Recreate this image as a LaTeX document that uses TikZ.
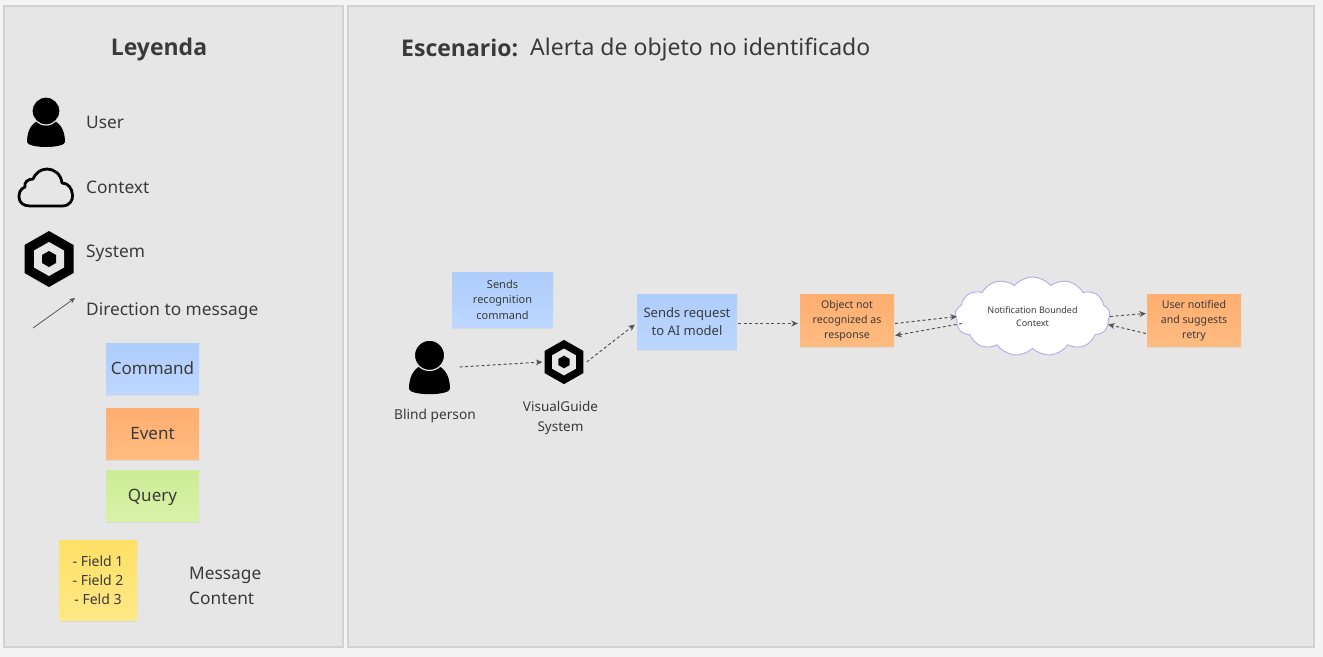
\documentclass[tikz,border=0pt]{standalone}
\usepackage{fontspec}
\setmainfont{Noto Sans}
\newfontfamily\titlefont{Open Sans}
\usetikzlibrary{shapes.symbols,shadows,arrows.meta}
\definecolor{pagebg}{HTML}{F4F4F4}
\definecolor{panelbg}{HTML}{E6E6E6}
\definecolor{panelline}{HTML}{D2D2D2}
\definecolor{ink}{HTML}{3A3A3A}
\definecolor{flow}{HTML}{555555}
\newcommand{\fs}[2]{\fontsize{#1bp}{#2bp}\selectfont}
\newcommand{\usericon}[3]{%
  \begin{scope}[shift={(#1,#2)},scale=#3]
    \fill[black] (-19,10) .. controls (-19,-4) and (-12,-13) .. (0,-13) .. controls (12,-13) and (19,-4) .. (19,10) .. controls (19,13) and (10,15) .. (0,15) .. controls (-10,15) and (-19,13) .. (-19,10) -- cycle;
    \draw[panelbg,line width=1.2bp,fill=black] (0,-21) circle (14);
  \end{scope}}
\newcommand{\hexicon}[3]{%
  \begin{scope}[shift={(#1,#2)},scale=#3]
    \fill[black] (0,-28) -- (24.5,-14) -- (24.5,14) -- (0,28) -- (-24.5,14) -- (-24.5,-14) -- cycle;
    \fill[panelbg] (0,-17) -- (15,-8.5) -- (15,8.5) -- (0,17) -- (-15,8.5) -- (-15,-8.5) -- cycle;
    \fill[black] (0,-8) -- (7,-4) -- (7,4) -- (0,8) -- (-7,4) -- (-7,-4) -- cycle;
  \end{scope}}
\definecolor{cmdtop}{HTML}{AECDFB}
\definecolor{cmdbot}{HTML}{BDD7FF}
\definecolor{evttop}{HTML}{FFAE70}
\definecolor{evtbot}{HTML}{FFBB80}
\definecolor{qrytop}{HTML}{CDEC96}
\definecolor{qrybot}{HTML}{D8F2A8}
\definecolor{fldtop}{HTML}{FFE066}
\definecolor{fldbot}{HTML}{FFE886}
\definecolor{cloudline}{HTML}{B4A8EC}
\tikzset{
  x=1bp,y=-1bp,
  sticky/.style={inner sep=0pt,align=center,text=ink,drop shadow={shadow xshift=0bp,shadow yshift=-1.5bp,opacity=.12}},
  cmdbox/.style={sticky,top color=cmdtop,bottom color=cmdbot},
  evtbox/.style={sticky,top color=evttop,bottom color=evtbot},
  qrybox/.style={sticky,top color=qrytop,bottom color=qrybot},
  fldbox/.style={sticky,top color=fldtop,bottom color=fldbot},
  label/.style={text=ink,inner sep=0pt,align=center},
  flowline/.style={draw=flow,line width=1bp,dash pattern=on 3bp off 2.5bp,-{Stealth[length=6.5bp,width=6bp]}},
  panel/.style={fill=panelbg,draw=panelline,line width=1.2bp},
  ghost/.style={inner sep=0pt,draw=none}
}
\begin{document}
\begin{tikzpicture}
\useasboundingbox (0,0) rectangle (1323,657);
\fill[pagebg] (0,0) rectangle (1323,657);
\draw[panel] (4,6) rectangle (343,647);
\draw[panel] (348,6) rectangle (1314,647);

% titles
\node[label,font=\titlefont\fs{23}{26}\bfseries] (legendtitle) at (159,49.5) {Leyenda};
\node[label,anchor=west,font=\titlefont\fs{23}{26}\bfseries] (scenariotitle) at (401,47.5) {Escenario:};
\node[label,anchor=west,font=\fs{23}{26}] (scenarioname) at (530,49.5) {Alerta de objeto no identificado};

% legend icons
\usericon{46}{132}{1}
\node[label,anchor=west,font=\fs{17.3}{20}] (luser) at (86,122) {User};
\draw[black,line width=2.8bp,line join=round] (30,206) -- (62,206) .. controls (70,206) and (73,200) .. (72.5,195) .. controls (72,188) and (68,183) .. (62,183) .. controls (61,174) and (54,169) .. (47,169) .. controls (40,169) and (35,174) .. (33,179) .. controls (27,179) and (24,183) .. (25,187) .. controls (20,189) and (19,193) .. (19,197) .. controls (19,203) and (24,206) .. (30,206) -- cycle;
\node[label,anchor=west,font=\fs{17.3}{20}] (lcontext) at (86,187) {Context};
\hexicon{49}{259}{1}
\node[label,anchor=west,font=\fs{17.3}{20}] (lsystem) at (86,253.5) {System};
\coordinate (larrowa) at (33,328);
\coordinate (larrowb) at (75,298);
\draw[draw=flow,line width=.8bp,-{Stealth[length=5.5bp,width=5bp]}] (larrowa) -- (larrowb);
\node[label,anchor=west,font=\fs{17.3}{20}] (ldirection) at (86,311) {Direction to message};

\node[cmdbox,minimum width=93bp,minimum height=51bp,font=\fs{17}{20}] (lcommand) at (152.5,368.5) {Command};
\node[evtbox,minimum width=93bp,minimum height=51bp,font=\fs{17}{20}] (levent) at (152.5,433.5) {Event};
\node[qrybox,minimum width=93bp,minimum height=51bp,font=\fs{17}{20},text height=13bp,text depth=2bp] (lquery) at (152.5,495.5) {Query};
\node[fldbox,minimum width=78bp,minimum height=80bp,font=\fs{14}{19}] (lfields) at (98,580) {- Field 1\\- Field 2\\- Feld 3};
\node[label,anchor=west,align=left,font=\fs{17.3}{25}] (lmessage) at (189,586) {Message\\Content};

% scenario
\usericon{429.5}{378}{1.08}
\node[ghost,minimum width=42bp,minimum height=56bp] (blind) at (429.5,367) {};
\node[label,font=\fs{13.7}{18}] (blindlabel) at (435,415.5) {Blind person};
\hexicon{564}{362}{.79}
\node[ghost,minimum width=39bp,minimum height=44bp] (system) at (564,362) {};
\node[label,font=\fs{13.5}{20}] (systemlabel) at (560.5,417.5) {VisualGuide\\System};

\node[cmdbox,minimum width=101bp,minimum height=55bp,font=\fs{11}{15.5}] (recog) at (502.5,299.5) {Sends\\recognition\\command};
\node[cmdbox,minimum width=100bp,minimum height=55bp,font=\fs{13}{18}] (request) at (687,321.5) {Sends request\\to AI model};
\node[evtbox,minimum width=94bp,minimum height=52bp,font=\fs{10.6}{15.2}] (object) at (847,320.5) {Object not\\recognized as\\response};
\node[evtbox,minimum width=94bp,minimum height=52bp,font=\fs{10.6}{15.2}] (notified) at (1194,320.5) {User notified\\and suggests\\retry};
\node[cloud,cloud puffs=13,cloud puff arc=100,cloud ignores aspect,draw=cloudline,line width=.9bp,fill=white,text=ink,align=center,inner sep=0pt,minimum width=155bp,minimum height=79bp,font=\fs{9}{12.5}] (context) at (1032.5,316.5) {Notification Bounded\\Context};

% connectors
\draw[flowline] ([shift={(9,0)}]blind.east) -- ([shift={(-2,0)}]system.west);
\draw[flowline] ([shift={(3,0)}]system.east) -- ([shift={(-2,3)}]request.west);
\draw[flowline] ([shift={(1,2)}]request.east) -- ([shift={(-2,3)}]object.west);
\draw[flowline] ([shift={(1,3)}]object.east) -- ([shift={(2,0)}]context.west);
\draw[flowline] ([shift={(7,7)}]context.west) -- ([shift={(1,15)}]object.east);
\draw[flowline] ([shift={(0,0)}]context.east) -- ([shift={(-1,-7)}]notified.west);
\draw[flowline] ([shift={(-1,13)}]notified.west) -- ([shift={(-2,8)}]context.east);
\end{tikzpicture}
\end{document}
